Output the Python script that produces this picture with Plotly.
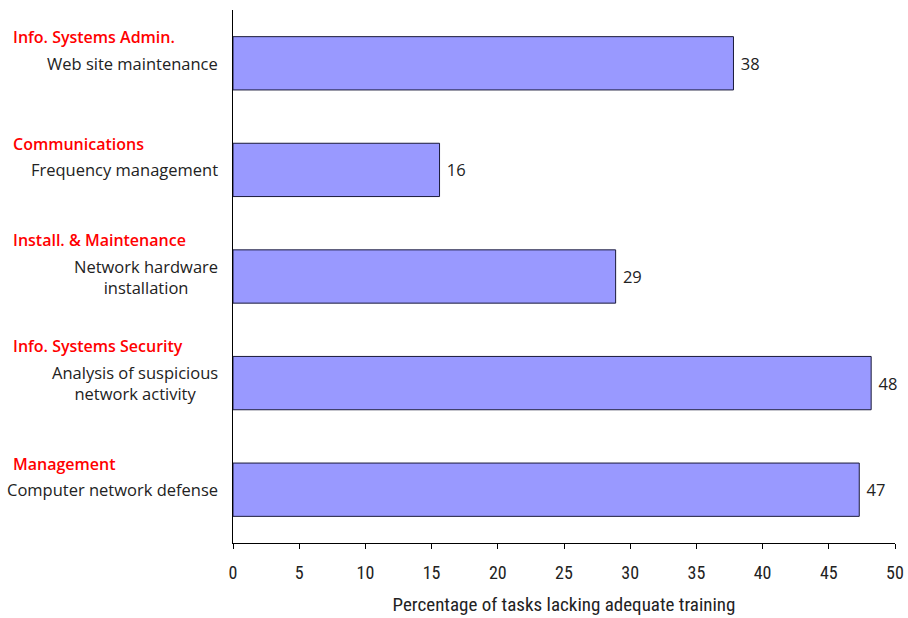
import plotly.graph_objects as go

groups = ["Info. Systems Admin.", "Communications", "Install. & Maintenance",
          "Info. Systems Security", "Management"]
tasks = ["Web site maintenance", "Frequency management", "Network hardware<br>installation",
         "Analysis of suspicious<br>network activity", "Computer network defense"]
values = [37.8, 15.6, 28.9, 48.2, 47.3]
value_labels = ["38", "16", "29", "48", "47"]
x_ticks = [0, 5, 10, 15, 20, 25, 30, 35, 40, 45, 50]
x_title = "Percentage of tasks lacking adequate training"

ypos = list(range(len(tasks)))
LABEL_FONT = "'Open Sans', Lato, sans-serif"
NARROW_FONT = "'Liberation Sans Narrow', 'Roboto Condensed', Roboto, sans-serif"

fig = go.Figure(go.Bar(
    x=values, y=ypos, orientation="h",
    marker=dict(color="#9999FF", line=dict(color="#1a1a3a", width=1)),
    text=[" " + v for v in value_labels], textposition="outside", cliponaxis=False,
    textfont=dict(family=LABEL_FONT, size=16.5, color="#222222"),
    width=0.5,
))

annotations = []
for i, (g, t) in enumerate(zip(groups, tasks)):
    two_line = "<br>" in t
    annotations.append(dict(
        x=(11 - 233) / 662, y=i, xref="paper", yref="y",
        text=g, showarrow=False, xanchor="left", yanchor="middle",
        yshift=37 if two_line else 26,
        font=dict(family=LABEL_FONT, size=16, color="#ff0000", weight=600),
    ))
    annotations.append(dict(
        x=(220 - 233) / 662, y=i, xref="paper", yref="y",
        text=t, showarrow=False, xanchor="right", yanchor="middle", align="center",
        font=dict(family=LABEL_FONT, size=16.5, color="#222222"),
    ))

fig.update_layout(
    width=908, height=618,
    margin=dict(l=233, r=13, t=10, b=75, autoexpand=False),
    plot_bgcolor="white", paper_bgcolor="white",
    showlegend=False,
    annotations=annotations,
    xaxis=dict(
        range=[0, 50], tickvals=x_ticks, ticks="outside", ticklen=5,
        tickcolor="black", showline=True, linecolor="black", linewidth=1,
        showgrid=False, zeroline=False, ticklabelstandoff=8,
        tickfont=dict(family=NARROW_FONT, size=18, color="#222222"),
        title=dict(text=x_title, standoff=16,
                   font=dict(family=NARROW_FONT, size=19, color="#222222")),
    ),
    yaxis=dict(
        range=[len(tasks) - 0.5, -0.5], showticklabels=False, ticks="",
        showline=True, linecolor="black", linewidth=1, showgrid=False, zeroline=False,
    ),
)

fig.write_html("out.html")
